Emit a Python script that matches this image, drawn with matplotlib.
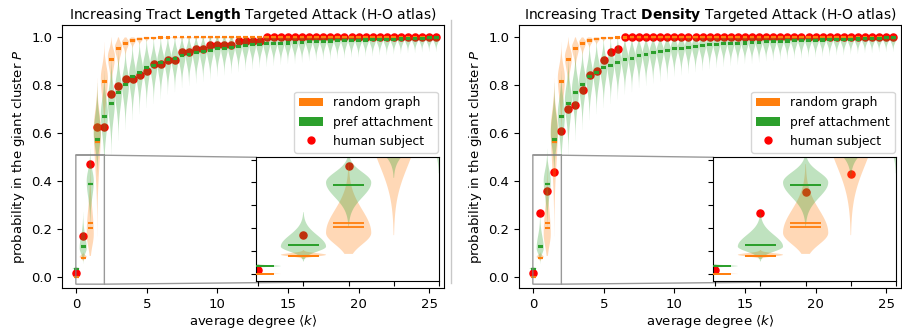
import numpy as np
import matplotlib
matplotlib.use("Agg")
import matplotlib.pyplot as plt
from matplotlib.patches import Patch
from matplotlib.lines import Line2D

# ---------------- data ----------------
k = [0.0, 0.5, 1.0, 1.5, 2.0, 2.5, 3.0, 3.5, 4.0, 4.5, 5.0, 5.5, 6.0, 6.5, 7.0, 7.5,
     8.0, 8.5, 9.0, 9.5, 10.0, 10.5, 11.0, 11.5, 12.0, 12.5, 13.0, 13.5, 14.0, 14.5,
     15.0, 15.5, 16.0, 16.5, 17.0, 17.5, 18.0, 18.5, 19.0, 19.5, 20.0, 20.5, 21.0,
     21.5, 22.0, 22.5, 23.0, 23.5, 24.0, 24.5, 25.0, 25.5]

human_length = [0.016, 0.17, 0.47, 0.625, 0.625, 0.766, 0.797, 0.828, 0.828, 0.844,
                0.859, 0.891, 0.891, 0.906, 0.906, 0.938, 0.938, 0.953, 0.953, 0.969,
                0.969, 0.969, 0.969, 0.984, 0.984, 0.984, 0.984] + [1.0] * 25
human_density = [0.016, 0.266, 0.359, 0.438, 0.609, 0.703, 0.719, 0.781, 0.844,
                 0.859, 0.906, 0.938, 0.953] + [1.0] * 39

# random graph (null model): mean, median, mode, spreads and lower cut-off
rg_mean = [0.0, 0.08, 0.224, 0.565, 0.812, 0.907, 0.951, 0.973, 0.986, 0.993, 0.996,
           0.997, 0.998, 0.999] + [1.0] * 38
rg_median = [0.0, 0.078, 0.206, 0.565, 0.82, 0.91, 0.955, 0.975, 0.99, 0.995, 0.998,
             0.999] + [1.0] * 40
rg_mode = [0.0, 0.084, 0.18, 0.62, 0.83, 0.92, 0.96, 0.98, 0.99, 0.995] + [1.0] * 42
rg_sd_lo = [0.002, 0.007, 0.05, 0.15, 0.08, 0.05, 0.035, 0.022, 0.014, 0.01, 0.007,
            0.005] + [0.004] * 40
rg_sd_hi = [0.002, 0.007, 0.10, 0.07, 0.05, 0.03, 0.02, 0.012, 0.008, 0.005] + [0.004] * 42
rg_min = [0.0, 0.066, 0.088, 0.17, 0.5, 0.72, 0.84, 0.9, 0.94, 0.96] + [0.97] * 42

# preferential attachment (null model)
pa_mean = [0.035, 0.128, 0.388, 0.578, 0.666, 0.723, 0.770, 0.801, 0.833, 0.853, 0.873,
           0.881, 0.893, 0.905, 0.909, 0.922, 0.927, 0.935, 0.940, 0.944, 0.951, 0.953,
           0.957, 0.960, 0.964, 0.967, 0.969, 0.971, 0.972, 0.973, 0.974, 0.975, 0.977,
           0.979, 0.981, 0.982, 0.983, 0.984, 0.985, 0.986, 0.986, 0.987, 0.988, 0.989,
           0.989, 0.990, 0.991, 0.992, 0.993, 0.995, 0.996, 0.997]
pa_median = [0.035, 0.126, 0.39, 0.572, 0.67, 0.727, 0.774, 0.805, 0.837, 0.857, 0.877,
             0.885, 0.897, 0.909, 0.913, 0.926, 0.931, 0.939, 0.944, 0.948, 0.956, 0.958,
             0.962, 0.965, 0.969, 0.972, 0.974, 0.976, 0.977, 0.978, 0.979, 0.98, 0.982,
             0.984, 0.986, 0.987, 0.988, 0.989, 0.99, 0.991, 0.991, 0.992, 0.993, 0.994,
             0.994, 0.995, 0.996, 0.997, 0.998, 0.999, 1.0, 1.0]
pa_mode = [0.035, 0.12, 0.40, 0.60, 0.68, 0.735, 0.78, 0.81, 0.84, 0.86, 0.88, 0.888,
           0.90, 0.912, 0.916, 0.928, 0.933, 0.94, 0.945, 0.95, 0.957, 0.959, 0.963,
           0.966, 0.97, 0.973, 0.975, 0.977, 0.978, 0.979, 0.98, 0.981, 0.983, 0.985,
           0.987, 0.988, 0.989, 0.99, 0.991, 0.992, 0.992, 0.993, 0.994, 0.995, 0.995,
           0.996, 0.997, 0.998, 0.998, 0.999, 1.0, 1.0]
pa_sd_lo = [0.003, 0.022, 0.065, 0.06, 0.08, 0.075, 0.07, 0.065, 0.062, 0.06, 0.058,
            0.055, 0.053, 0.05, 0.048, 0.046, 0.045, 0.044, 0.043, 0.042, 0.04, 0.039,
            0.038, 0.037, 0.036, 0.035, 0.034, 0.033, 0.032, 0.031, 0.03, 0.03, 0.029,
            0.028, 0.028, 0.027, 0.027, 0.026, 0.026, 0.025, 0.025, 0.024, 0.024, 0.023,
            0.023, 0.022, 0.022, 0.021, 0.021, 0.02, 0.02, 0.02]
pa_sd_hi = [0.003, 0.05, 0.045, 0.07, 0.06, 0.06, 0.055, 0.05, 0.048, 0.045, 0.042,
            0.04, 0.038, 0.036, 0.034, 0.032, 0.03, 0.028, 0.026, 0.025, 0.024, 0.023,
            0.022] + [0.02] * 29
pa_min = [0.03, 0.055, 0.18] + [0.0] * 49

titles = [r"Increasing Tract $\bf{Length}$ Targeted Attack (H-O atlas)",
          r"Increasing Tract $\bf{Density}$ Targeted Attack (H-O atlas)"]
humans = [human_length, human_density]

C_RG = "#ff7f0e"
C_PA = "#2ca02c"
C_HS = "#ff0000"


def make_stats(mode, sd_lo, sd_hi, vmin, mean, median):
    stats = []
    for m, sl, sh, cut, mu, md in zip(mode, sd_lo, sd_hi, vmin, mean, median):
        lo = max(cut, m - 3.0 * sl)
        hi = min(1.0, m + 3.0 * sh)
        if hi <= lo:
            hi = lo + 1e-3
        y = np.linspace(lo, hi, 200)
        s = np.where(y < m, sl, sh)
        v = np.exp(-0.5 * ((y - m) / s) ** 2)
        stats.append(dict(coords=y, vals=v, mean=mu, median=md, min=lo, max=hi))
    return stats


rg_stats = make_stats(rg_mode, rg_sd_lo, rg_sd_hi, rg_min, rg_mean, rg_median)
pa_stats = make_stats(pa_mode, pa_sd_lo, pa_sd_hi, pa_min, pa_mean, pa_median)


def draw(ax, human, half=0.17, lw=1.5):
    ax.scatter(k, human, s=26, color=C_HS, zorder=1)
    for stats, col, mean, med in ((rg_stats, C_RG, rg_mean, rg_median),
                                  (pa_stats, C_PA, pa_mean, pa_median)):
        parts = ax.violin(stats, positions=k, widths=0.5, showmeans=False,
                          showextrema=False, showmedians=False)
        for b in parts["bodies"]:
            b.set_facecolor(col)
            b.set_edgecolor("none")
            b.set_alpha(0.3)
        kk = np.asarray(k)
        ax.hlines(mean, kk - half, kk + half, colors=col, lw=lw, zorder=3)
        ax.hlines(med, kk - half, kk + half, colors=col, lw=lw, zorder=3)


fig = plt.figure(figsize=(9.02, 3.33), dpi=100)
lefts = [62 / 902, 519 / 902]
for i in range(2):
    ax = fig.add_axes([lefts[i], 45 / 333, 382 / 902, 263 / 333])
    draw(ax, humans[i])
    ax.set_xlim(-1.0, 26.05)
    ax.set_ylim(-0.046, 1.052)
    ax.set_xticks([0, 5, 10, 15, 20, 25])
    ax.set_yticks([0.0, 0.2, 0.4, 0.6, 0.8, 1.0])
    ax.tick_params(labelsize=9.5)
    ax.set_title(titles[i], fontsize=10, pad=4)
    ax.set_xlabel(r"average degree $\langle k\rangle$", fontsize=9.5, labelpad=2)
    ax.set_ylabel(r"probability in the giant cluster $P$", fontsize=9.5, labelpad=3)

    handles = [Patch(facecolor=C_RG, edgecolor="none"),
               Patch(facecolor=C_PA, edgecolor="none"),
               Line2D([], [], ls="none", marker="o", color=C_HS, markersize=5)]
    ax.legend(handles, ["random graph", "pref attachment", "human subject"],
              loc="center right", bbox_to_anchor=(1.0, 0.631), fontsize=8.8,
              handlelength=2.0, borderaxespad=0.5)

    axins = ax.inset_axes([0.509, 0.027, 0.478, 0.47])
    draw(axins, humans[i], lw=1.3)
    axins.set_xlim(-0.02, 2.0)
    axins.set_ylim(-0.03, 0.51)
    axins.set_xticks([0, 0.5, 1.0, 1.5, 2.0])
    axins.set_yticks([0.0, 0.1, 0.2, 0.3, 0.4, 0.5])
    axins.set_xticklabels([])
    axins.set_yticklabels([])
    ax.indicate_inset_zoom(axins, edgecolor="grey", alpha=0.8, lw=1.0)

# thin separator line between the two panels, as in the reference
fig.add_artist(Line2D([451 / 902, 451 / 902], [50 / 333, 313 / 333],
                      transform=fig.transFigure, color="#c8c8c8", lw=1.0))

fig.savefig("out.png", dpi=100)
